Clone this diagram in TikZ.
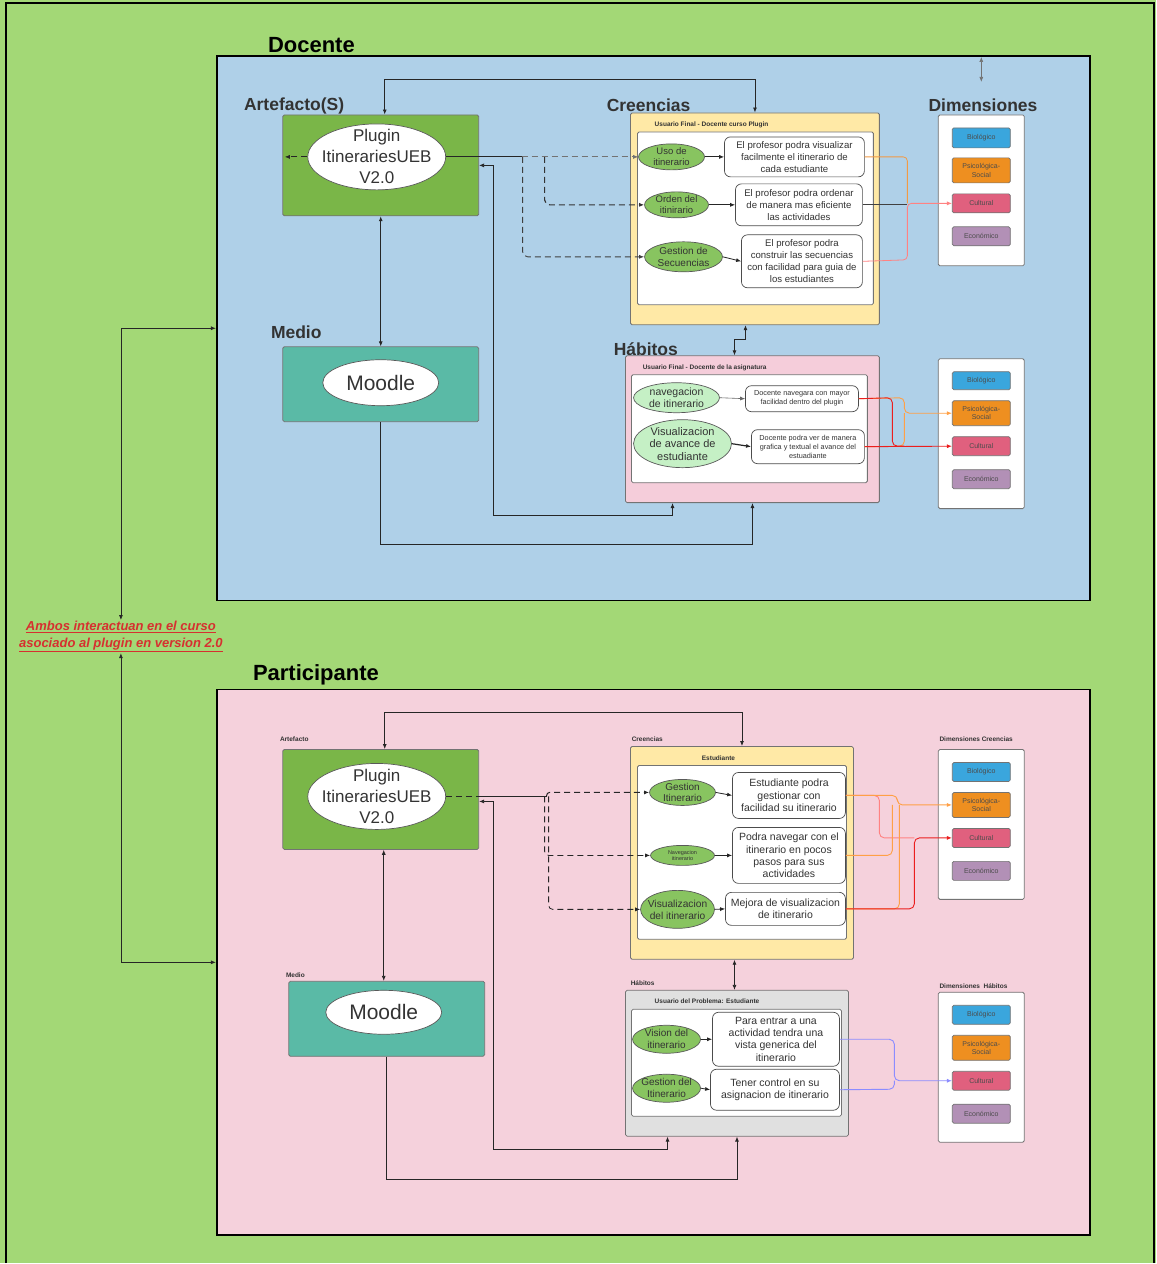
\documentclass[tikz,border=0pt]{standalone}
\usepackage{fontspec}
\setmainfont{Liberation Sans}
\usetikzlibrary{arrows.meta,shapes.geometric}
\definecolor{bggreen}{RGB}{163,216,118}
\definecolor{panelblue}{RGB}{175,208,232}
\definecolor{panelpink}{RGB}{245,209,220}
\definecolor{habpink}{RGB}{245,205,218}
\definecolor{pluggreen}{RGB}{122,182,72}
\definecolor{teal}{RGB}{90,186,166}
\definecolor{yel}{RGB}{255,233,166}
\definecolor{grayb}{RGB}{224,224,224}
\definecolor{ellgreen}{RGB}{136,196,96}
\definecolor{lightgreen}{RGB}{197,240,197}
\definecolor{cbio}{RGB}{58,166,221}
\definecolor{cpsi}{RGB}{238,143,32}
\definecolor{ccul}{RGB}{224,96,126}
\definecolor{ceco}{RGB}{178,144,182}
\definecolor{txtdark}{RGB}{51,51,51}
\definecolor{ambred}{RGB}{214,48,48}
\definecolor{corange}{RGB}{255,160,70}
\definecolor{csalmon}{RGB}{255,130,130}
\definecolor{cred}{RGB}{235,30,30}
\definecolor{cviolet}{RGB}{140,140,255}
\begin{document}
\begin{tikzpicture}[x=1pt,y=-1pt,
  panelbox/.style={draw=black, line width=1.8pt, inner sep=0pt},
  gbox/.style={draw=black!55, line width=0.8pt, rounded corners=1.5pt, inner sep=0pt},
  tbox/.style={draw=black!70, fill=white, rounded corners=6pt, align=center, inner sep=0pt, line width=0.7pt, text=txtdark},
  ell/.style={ellipse, draw=black!65, inner sep=0pt, line width=0.7pt},
  lbl/.style={align=center, text=txtdark, inner sep=0pt},
  dimbox/.style={draw=black!55, rounded corners=1.5pt, minimum width=58pt, inner sep=0pt, font=\fontsize{7}{8.2}\selectfont, text=black!70, align=center, line width=0.7pt},
  bigtitle/.style={anchor=base west, font=\fontsize{22}{26}\selectfont\bfseries, inner sep=0pt},
  sectitle/.style={anchor=base west, font=\fontsize{17.5}{20}\selectfont\bfseries, text=txtdark, inner sep=0pt},
  smalltitle/.style={anchor=base west, font=\fontsize{6.5}{8}\selectfont\bfseries, text=txtdark, inner sep=0pt},
  conn/.style={draw=black!85, line width=0.8pt},
  arr/.style={-{Latex[length=5pt,width=4pt]}},
  barr/.style={{Latex[length=5pt,width=4pt]}-{Latex[length=5pt,width=4pt]}},
  dsh/.style={dash pattern=on 6pt off 4pt}
]
% background
\fill[bggreen] (0,0) rectangle (1157,1264);
\draw[line width=1.8pt] (6,1264) -- (6,3) -- (1155,3) -- (1155,1264);

% ===================== DOCENTE =====================
\node[panelbox, fill=panelblue, minimum width=874pt, minimum height=545pt] (docP) at (654,328.5) {};
\node[bigtitle] (tDoc) at (268,53) {Docente};
\node[sectitle] (tArt) at (244,111) {Artefacto(S)};
\node[sectitle] (tCre) at (607,112) {Creencias};
\node[sectitle] (tDim) at (929,112) {Dimensiones};
\node[sectitle] (tMed) at (271,339) {Medio};
\node[sectitle] (tHab) at (614,356) {Hábitos};

% plugin
\node[gbox, fill=pluggreen, minimum width=196pt, minimum height=101pt] (plugT) at (381,165.5) {};
\node[ell, fill=white, minimum width=138pt, minimum height=66pt, label={[lbl, font=\fontsize{17}{21}\selectfont]center:{Plugin\\ItinerariesUEB\\V2.0}}] (ellT) at (377,157) {};
% moodle
\node[gbox, fill=teal, minimum width=196pt, minimum height=75pt] (moodT) at (381,384.5) {};
\node[ell, fill=white, minimum width=116pt, minimum height=46pt, label={[lbl, font=\fontsize{21}{24}\selectfont]center:{Moodle}}] (mellT) at (381,383) {};

% creencias
\node[gbox, fill=yel, minimum width=249pt, minimum height=212pt] (yelT) at (755.5,219) {};
\node[smalltitle] (uT) at (655,127) {Usuario Final - Docente curso Plugin};
\node[gbox, fill=white, minimum width=236pt, minimum height=173pt] (inT) at (756,218.5) {};
\node[ell, fill=ellgreen, minimum width=66pt, minimum height=26pt, label={[lbl, font=\fontsize{9.5}{11}\selectfont]center:{Uso de\\itinerario}}] (usoT) at (672,157) {};
\node[ell, fill=ellgreen, minimum width=64pt, minimum height=26pt, label={[lbl, font=\fontsize{9.5}{11}\selectfont]center:{Orden del\\itinirario}}] (ordT) at (677,205) {};
\node[ell, fill=ellgreen, minimum width=78pt, minimum height=30pt, label={[lbl, font=\fontsize{10}{12}\selectfont]center:{Gestion de\\Secuencias}}] (gesT) at (684,257) {};
\node[tbox, minimum width=140pt, minimum height=40pt, font=\fontsize{9.6}{12}\selectfont] (b1) at (795,157) {El profesor podra visualizar\\facilmente el itinerario de\\cada estudiante};
\node[tbox, minimum width=127pt, minimum height=42pt, font=\fontsize{9.6}{12}\selectfont] (b2) at (799.5,205) {El profesor podra ordenar\\de manera mas eficiente\\las actividades};
\node[tbox, minimum width=121pt, minimum height=53pt, font=\fontsize{9.6}{12}\selectfont] (b3) at (802.5,261.5) {El profesor podra\\construir las secuencias\\con facilidad para guia de\\los estudiantes};
\draw[conn, arr] (usoT.east) -- (b1.west);
\draw[conn, arr] (ordT.east) -- (b2.west);
\draw[conn, arr] (gesT.east) -- (b3.west);

% habitos
\node[gbox, fill=habpink, minimum width=254pt, minimum height=147pt] (habT) at (753,429.5) {};
\node[smalltitle] (uH) at (643,370) {Usuario Final - Docente de la asignatura};
\node[gbox, fill=white, minimum width=236pt, minimum height=108pt] (inH) at (750,429) {};
\node[ell, fill=lightgreen, minimum width=86pt, minimum height=30pt, label={[lbl, font=\fontsize{10.5}{12}\selectfont]center:{navegacion\\de itinerario}}] (navT) at (677,398) {};
\node[ell, fill=lightgreen, minimum width=98pt, minimum height=48pt, label={[lbl, font=\fontsize{11}{12.5}\selectfont]center:{Visualizacion\\de avance de\\estudiante}}] (visT) at (683,444) {};
\node[tbox, minimum width=113pt, minimum height=26pt, font=\fontsize{7.3}{9}\selectfont] (h1) at (802.5,399) {Docente navegara con mayor\\facilidad dentro del plugin};
\node[tbox, minimum width=113pt, minimum height=34pt, font=\fontsize{7.3}{9}\selectfont] (h2) at (808.5,447) {Docente podra ver de manera\\grafica y textual el avance del\\estuadiante};
\draw[draw=black!60, line width=0.6pt, arr] (navT.east) -- (h1.west);
\draw[conn, line width=1.2pt, arr] (visT.east) -- (h2.west);

% dimensiones top
\node[gbox, fill=white, minimum width=86pt, minimum height=151pt] (dim1) at (982,190.5) {};
\node[dimbox, fill=cbio, minimum height=20pt] (bio1) at (982,138) {Biológico};
\node[dimbox, fill=cpsi, minimum height=25pt] (psi1) at (982,170.5) {Psicológica-\\Social};
\node[dimbox, fill=ccul, minimum height=19pt] (cul1) at (982,203.5) {Cultural};
\node[dimbox, fill=ceco, minimum height=19pt] (eco1) at (982,236.5) {Económico};

\node[gbox, fill=white, minimum width=86pt, minimum height=150pt] (dim2) at (982,434) {};
\node[dimbox, fill=cbio, minimum height=18pt] (bio2) at (982,381) {Biológico};
\node[dimbox, fill=cpsi, minimum height=25pt] (psi2) at (982,413.5) {Psicológica-\\Social};
\node[dimbox, fill=ccul, minimum height=19pt] (cul2) at (982,446.5) {Cultural};
\node[dimbox, fill=ceco, minimum height=19pt] (eco2) at (982,479.5) {Económico};

% connectors docente
\coordinate (jT) at (522,157);
\draw[conn] (ellT.east) -- (jT);
\draw[draw=black!55, line width=0.8pt, dsh, arr] (jT) -- (usoT.west);
\draw[draw=black!80, line width=1.2pt, dsh, arr, rounded corners=5pt] (545,157) -- (545,205) -- (ordT.west);
\draw[draw=black!75, line width=0.9pt, dsh, arr, rounded corners=5pt] (523,157) -- (523,257) -- (gesT.west);
\coordinate (lT) at (285,157);
\draw[conn, dsh, arr] (ellT.west) -- (lT);
\draw[conn, barr] (plugT.east) -- (494,165.5) -- (494,516) -| ([xshift=-80pt]habT.south);
\draw[conn, arr] (moodT.south) -- (381,545) -| (habT.south);
\draw[conn, barr] (plugT.south) -- (moodT.north);
\draw[conn, barr] ([xshift=4pt]plugT.north) -- (385,79) -| (yelT.north);
\draw[conn, barr] ([xshift=-9.5pt]yelT.south) -- (746,340) -| ([xshift=-18pt]habT.north);
\coordinate (ua) at (982,57);
\coordinate (ub) at (982,82);
\draw[draw=black!55, line width=0.7pt, barr] (ua) -- (ub);

\draw[corange!80!brown, line width=0.8pt, rounded corners=4pt] (b1.east) -- (908,157) -- (908,203.5);
\draw[black!75, line width=1pt, rounded corners=4pt] (b2.east) -- (908,205);
\draw[csalmon, line width=0.8pt, rounded corners=4pt, arr] (b3.east) -- (908,260) -- (908,203.5) -- (cul1.west);

\draw[corange, line width=0.9pt, rounded corners=5pt] (h2.east) -- (905,446.5) -- (905,413.5);
\draw[corange, line width=0.9pt, rounded corners=5pt, arr] (h1.east) -- (905,398) -- (905,413.5) -- (psi2.west);
\draw[cred, line width=0.9pt, rounded corners=5pt] (h1.east) -- (893,398) -- (893,446.5) -- (905,446.5);
\draw[cred, line width=0.9pt, arr] (h2.east) -- (cul2.west);

% ambos
\node[font=\fontsize{13}{16.5}\selectfont\bfseries\itshape, text=ambred, align=center, inner sep=1pt] (ambos) at (121,637) {\underline{Ambos interactuan en el curso}\\\underline{asociado al plugin en version 2.0}};

% ===================== PARTICIPANTE =====================
\node[panelbox, fill=panelpink, minimum width=874pt, minimum height=546pt] (partP) at (654,963) {};
\node[bigtitle] (tPar) at (253,681) {Participante};
\node[smalltitle] (sArt) at (280,742) {Artefacto};
\node[smalltitle] (sMed) at (286,978) {Medio};
\node[smalltitle] (sCre) at (632,742) {Creencias};
\node[smalltitle] (sDimC) at (940,742) {Dimensiones Creencias};
\node[smalltitle] (sHab) at (631,986) {Hábitos};
\node[smalltitle] (sDimH) at (940,989) {Dimensiones\ \ Hábitos};

\draw[conn, barr] (ambos.north) |- (docP.west);
\draw[conn, barr] (ambos.south) |- (partP.west);

\node[gbox, fill=pluggreen, minimum width=196pt, minimum height=100pt] (plugB) at (381,800) {};
\node[ell, fill=white, minimum width=138pt, minimum height=66pt, label={[lbl, font=\fontsize{17}{21}\selectfont]center:{Plugin\\ItinerariesUEB\\V2.0}}] (ellB) at (377,797) {};
\node[gbox, fill=teal, minimum width=196pt, minimum height=75pt] (moodB) at (387,1019.5) {};
\node[ell, fill=white, minimum width=116pt, minimum height=44pt, label={[lbl, font=\fontsize{21}{24}\selectfont]center:{Moodle}}] (mellB) at (384,1013) {};

% creencias bottom
\node[gbox, fill=yel, minimum width=223pt, minimum height=213pt] (yelB) at (742.5,853.5) {};
\node[anchor=base, font=\fontsize{6.5}{8}\selectfont\bfseries, text=txtdark, inner sep=0pt] (estB) at (719,761) {Estudiante};
\node[gbox, fill=white, minimum width=209pt, minimum height=174pt] (inB) at (742.5,853) {};
\node[ell, fill=ellgreen, minimum width=66pt, minimum height=26pt, label={[lbl, font=\fontsize{10}{11.5}\selectfont]center:{Gestion\\Itinerario}}] (gB) at (683,793) {};
\node[ell, fill=ellgreen, minimum width=64pt, minimum height=20pt, label={[lbl, font=\fontsize{5.5}{6.5}\selectfont]center:{Navegacion\\itinerario}}] (nB) at (683,856) {};
\node[ell, fill=ellgreen, minimum width=74pt, minimum height=38pt, label={[lbl, font=\fontsize{10.2}{12}\selectfont]center:{Visualizacion\\del itinerario}}] (vB) at (678,910) {};
\node[tbox, minimum width=113pt, minimum height=46pt, font=\fontsize{10.5}{12.3}\selectfont] (c1) at (789.5,796) {Estudiante podra\\gestionar con\\facilidad su itinerario};
\node[tbox, minimum width=113pt, minimum height=56pt, font=\fontsize{10.5}{12.3}\selectfont] (c2) at (789.5,856) {Podra navegar con el\\itinerario en pocos\\pasos para sus\\actividades};
\node[tbox, minimum width=120pt, minimum height=33pt, font=\fontsize{10.5}{12.3}\selectfont] (c3) at (786,909.5) {Mejora de visualizacion\\de itinerario};
\draw[conn, arr] (gB.east) -- (c1.west);
\draw[conn, arr] (nB.east) -- (c2.west);
\draw[conn, arr] (vB.east) -- (c3.west);

% habitos bottom
\node[gbox, fill=grayb, minimum width=223pt, minimum height=146pt] (grayB) at (737.5,1064) {};
\node[smalltitle] (uB) at (655,1004) {Usuario del Problema: Estudiante};
\node[gbox, fill=white, minimum width=210pt, minimum height=107pt] (inG) at (737,1063.5) {};
\node[ell, fill=ellgreen, minimum width=68pt, minimum height=28pt, label={[lbl, font=\fontsize{10}{12}\selectfont]center:{Vision del\\itinerario}}] (viB) at (667,1040) {};
\node[ell, fill=ellgreen, minimum width=68pt, minimum height=28pt, label={[lbl, font=\fontsize{10}{12}\selectfont]center:{Gestion del\\Itinerario}}] (geB) at (667,1089) {};
\node[tbox, minimum width=127pt, minimum height=54pt, font=\fontsize{10.5}{12.3}\selectfont] (p1) at (776.5,1040) {Para entrar a una\\actividad tendra una\\vista generica del\\itinerario};
\node[tbox, minimum width=129pt, minimum height=41pt, font=\fontsize{10.5}{12.3}\selectfont] (p2) at (775.5,1090.5) {Tener control en su\\asignacion de itinerario};
\draw[conn, arr] (viB.east) -- (p1.west);
\draw[conn, arr] (geB.east) -- (p2.west);

% dimensiones bottom
\node[gbox, fill=white, minimum width=86pt, minimum height=150pt] (dimC) at (982,825) {};
\node[dimbox, fill=cbio, minimum height=19pt] (bioC) at (982,772.5) {Biológico};
\node[dimbox, fill=cpsi, minimum height=25pt] (psiC) at (982,805.5) {Psicológica-\\Social};
\node[dimbox, fill=ccul, minimum height=19pt] (culC) at (982,838.5) {Cultural};
\node[dimbox, fill=ceco, minimum height=19pt] (ecoC) at (982,871.5) {Económico};

\node[gbox, fill=white, minimum width=86pt, minimum height=150pt] (dimH) at (982,1068) {};
\node[dimbox, fill=cbio, minimum height=19pt] (bioH) at (982,1015.5) {Biológico};
\node[dimbox, fill=cpsi, minimum height=25pt] (psiH) at (982,1048.5) {Psicológica-\\Social};
\node[dimbox, fill=ccul, minimum height=19pt] (culH) at (982,1081.5) {Cultural};
\node[dimbox, fill=ceco, minimum height=19pt] (ecoH) at (982,1114.5) {Económico};

% connectors participante
\draw[conn, dsh] (ellB.east) -- (479,797);
\coordinate (jB) at (547,797);
\draw[conn] (479,797) -- (jB);
\draw[conn, barr] ([yshift=-2pt]plugB.east) -- (494,802) -- (494,1150) -| ([xshift=-69.5pt]grayB.south);
\draw[conn, line width=1pt, dsh, arr, rounded corners=3pt] (jB) |- (gB.west);
\draw[conn, dsh, arr, rounded corners=4pt] (545,797) -- (545,856) -- (nB.west);
\draw[conn, dsh, arr, rounded corners=4pt] (549,797) -- (549,910) -- (vB.west);
\draw[conn, arr] (moodB.south) -- (387,1180) -| (grayB.south);
\draw[conn, barr] ([xshift=3pt]plugB.south) -- ([xshift=-3pt]moodB.north);
\draw[conn, barr] ([xshift=4pt]plugB.north) -- (385,713) -| (yelB.north);
\draw[conn, barr] ([xshift=-7.5pt]yelB.south) -- ([xshift=-2.5pt]grayB.north);

\draw[csalmon, line width=0.9pt, rounded corners=5pt] (c1.east) -- (880,796) -- (880,838.5) -- (915,838.5);
\draw[corange, line width=0.9pt, rounded corners=5pt] (c2.east) -- (893,856) -- (893,805.5);
\draw[corange, line width=0.9pt, rounded corners=5pt] (c3.east) -- (900,909.5) -- (900,805.5);
\draw[corange, line width=0.9pt, rounded corners=5pt, arr] (c1.east) -- (898,796) -- (898,805.5) -- (psiC.west);
\draw[cred, line width=0.9pt, rounded corners=5pt, arr] (c3.east) -- (915,909.5) -- (915,838.5) -- (culC.west);

\draw[cviolet, line width=0.9pt, rounded corners=5pt] (p2.east) -- (895,1090) -- (895,1081.5);
\draw[cviolet, line width=0.9pt, rounded corners=5pt, arr] (p1.east) -- (895,1040) -- (895,1081.5) -- (culH.west);
\end{tikzpicture}
\end{document}
